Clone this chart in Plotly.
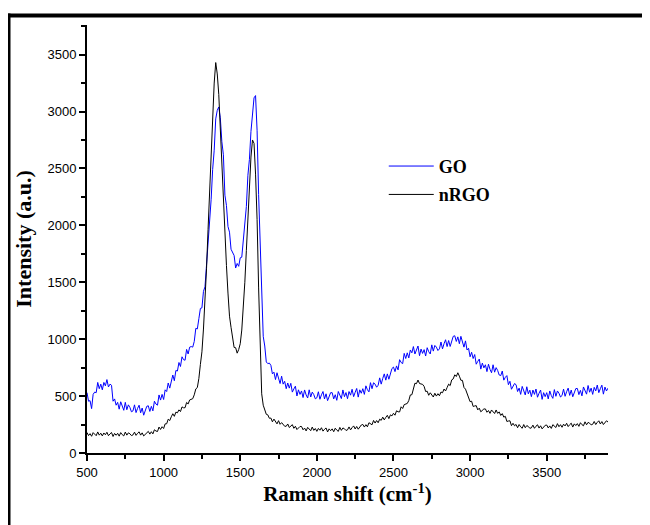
import plotly.graph_objects as go

# Raman shift grid (cm^-1)
raman_shift = list(range(500, 3901, 10))

# GO spectrum intensity (a.u.) (noisy trace)
go_intensity = [
    530, 455, 460, 390, 515, 535, 530, 620, 565, 605,
    555, 620, 590, 645, 580, 605, 595, 455, 475, 420,
    445, 385, 450, 405, 375, 445, 380, 423, 400, 362,
    370, 423, 355, 392, 420, 353, 395, 332, 365, 410,
    415, 365, 410, 370, 455, 430, 420, 510, 465, 515,
    470, 555, 540, 615, 570, 625, 685, 635, 725, 720,
    795, 760, 845, 820, 815, 910, 870, 930, 935, 930,
    980, 1095, 1090, 1180, 1270, 1275, 1420, 1460, 1645, 1830,
    2080, 2225, 2490, 2660, 2935, 3010, 3040, 2945, 2735, 2620,
    2265, 2175, 1990, 1940, 1790, 1765, 1735, 1625, 1665, 1640,
    1715, 1720, 1880, 1970, 2165, 2440, 2580, 2825, 3010, 3120,
    3140, 2835, 2270, 1810, 1390, 1025, 940, 800, 785, 790,
    770, 695, 710, 645, 705, 650, 610, 675, 605, 630,
    565, 615, 570, 612, 535, 563, 587, 501, 555, 515,
    545, 487, 554, 510, 483, 555, 492, 535, 513, 476,
    485, 538, 472, 511, 540, 475, 520, 460, 495, 530,
    530, 475, 512, 463, 540, 501, 478, 554, 495, 531,
    477, 540, 508, 560, 495, 533, 567, 491, 555, 525,
    565, 515, 590, 556, 537, 618, 565, 617, 605, 578,
    595, 660, 605, 655, 695, 640, 695, 648, 695, 742,
    755, 715, 765, 730, 820, 795, 785, 875, 830, 880,
    835, 905, 880, 935, 870, 910, 940, 855, 913, 875,
    908, 852, 925, 890, 870, 950, 895, 945, 930, 900,
    915, 975, 915, 960, 995, 935, 988, 936, 980, 1025,
    1030, 980, 1020, 960, 1025, 970, 930, 985, 905, 920,
    845, 885, 830, 865, 780, 805, 825, 737, 790, 748,
    775, 715, 780, 735, 705, 775, 710, 750, 725, 685,
    680, 720, 640, 665, 680, 600, 630, 560, 585, 610,
    600, 540, 570, 515, 585, 540, 510, 582, 520, 552,
    495, 553, 515, 562, 490, 525, 553, 471, 530, 495,
    530, 475, 545, 505, 480, 557, 498, 545, 525, 492,
    505, 561, 498, 539, 570, 506, 553, 494, 530, 566,
    567, 513, 550, 502, 580, 541, 517, 593, 534, 570,
    515, 577, 545, 597, 530, 565, 596, 517, 579, 545,
    570,
]

# nRGO spectrum intensity (a.u.) (noisy trace)
nrgo_intensity = [
    180, 153, 170, 147, 179, 162, 152, 185, 157, 174,
    150, 176, 160, 182, 152, 168, 180, 145, 172, 156,
    173, 148, 179, 161, 150, 184, 157, 177, 169, 153,
    159, 183, 155, 173, 186, 157, 177, 150, 166, 181,
    190, 166, 187, 168, 204, 193, 189, 228, 207, 231,
    215, 256, 257, 297, 285, 318, 345, 322, 359, 353,
    379, 364, 405, 397, 398, 444, 431, 466, 473, 477,
    511, 563, 575, 655, 778, 889, 1089, 1302, 1618, 1963,
    2300, 2640, 2960, 3250, 3430, 3330, 3150, 2830, 2500, 2220,
    1975, 1648, 1405, 1202, 1104, 997, 927, 925, 877, 909,
    960, 1080, 1280, 1500, 1780, 2060, 2320, 2600, 2750, 2720,
    2450, 2050, 1450, 850, 520, 420, 380, 340, 335, 305,
    307, 274, 298, 273, 256, 284, 252, 267, 255, 235,
    235, 255, 224, 239, 249, 217, 235, 206, 220, 233,
    233, 204, 219, 194, 225, 207, 196, 228, 199, 215,
    190, 216, 200, 222, 192, 208, 220, 185, 212, 196,
    212, 187, 218, 201, 190, 225, 199, 220, 213, 198,
    203, 229, 203, 223, 238, 211, 233, 209, 228, 246,
    251, 228, 249, 230, 266, 253, 248, 286, 263, 285,
    266, 297, 287, 315, 291, 313, 331, 302, 335, 326,
    349, 332, 371, 362, 361, 406, 391, 425, 433, 435,
    461, 510, 512, 565, 613, 609, 641, 610, 608, 603,
    585, 540, 543, 507, 529, 505, 492, 525, 500, 521,
    503, 536, 529, 562, 545, 575, 605, 592, 642, 651,
    687, 672, 705, 675, 639, 638, 576, 561, 518, 472,
    451, 455, 409, 413, 416, 379, 394, 362, 375, 387,
    387, 358, 373, 348, 378, 359, 347, 378, 348, 361,
    330, 346, 315, 322, 277, 281, 283, 240, 261, 239,
    251, 222, 250, 230, 217, 250, 222, 241, 233, 217,
    221, 245, 217, 235, 248, 219, 239, 212, 228, 243,
    246, 220, 238, 216, 249, 233, 224, 258, 231, 249,
    226, 253, 238, 261, 232, 249, 262, 228, 256, 241,
    258, 234, 266, 249, 239, 274, 248, 269, 262, 247,
    252, 277, 250, 269, 283, 255, 276, 250, 267, 283,
    272,
]

x_tick_values = [500, 1000, 1500, 2000, 2500, 3000, 3500]
y_tick_values = [0, 500, 1000, 1500, 2000, 2500, 3000, 3500]

fig = go.Figure()
fig.add_trace(go.Scatter(
    x=raman_shift, y=go_intensity, mode="lines", name="GO",
    legendgroup="GO", line=dict(color="#0000FF", width=1),
))
fig.add_trace(go.Scatter(
    x=raman_shift, y=nrgo_intensity, mode="lines", name="nRGO",
    legendgroup="nRGO", line=dict(color="#000000", width=1),
))

tick_font = dict(family="Liberation Sans, Arial, sans-serif", size=13, color="#000000")
serif = "Liberation Serif, Times New Roman, serif"

fig.update_layout(
    width=642, height=517,
    margin=dict(l=79, r=42, t=17, b=72, autoexpand=False),
    paper_bgcolor="white", plot_bgcolor="white",
    showlegend=True,
    legend=dict(
        x=0.5696, y=0.713, xanchor="left", yanchor="top",
        font=dict(family=serif, size=18, color="#000000", weight="bold"),
        bgcolor="rgba(0,0,0,0)", borderwidth=0,
        traceorder="grouped", tracegroupgap=2, itemwidth=45,
    ),
    xaxis=dict(
        range=[500, 3900], showgrid=False, zeroline=False,
        showline=True, linecolor="black", linewidth=2,
        ticks="outside", ticklen=6, tickwidth=1.5, tickcolor="black",
        tickvals=x_tick_values, tickfont=tick_font,
        minor=dict(ticks="outside", ticklen=4, tickwidth=1.5, tickcolor="black", dtick=250, tick0=500),
        title=dict(text="Raman shift (cm<sup>-1</sup>)",
                   font=dict(family=serif, size=21, color="#000000", weight="bold"), standoff=8),
    ),
    yaxis=dict(
        range=[0, 3760], showgrid=False, zeroline=False,
        showline=True, linecolor="black", linewidth=2,
        ticks="outside", ticklen=6, tickwidth=1.5, tickcolor="black",
        tickvals=y_tick_values, tickfont=tick_font,
        minor=dict(ticks="outside", ticklen=4, tickwidth=1.5, tickcolor="black", dtick=250, tick0=0),
        title=dict(text="Intensity (a.u.)",
                   font=dict(family=serif, size=22, color="#000000", weight="bold"), standoff=10),
    ),
)

# Outer frame (left and top border of the picture)
fig.add_shape(type="line", xref="paper", yref="paper",
              x0=-0.1497, x1=-0.1497, y0=1.027, y1=-0.25,
              line=dict(color="black", width=3))
fig.add_shape(type="line", xref="paper", yref="paper",
              x0=-0.16, x1=1.2, y0=1.0222, y1=1.0222,
              line=dict(color="black", width=4))

fig.write_html("out.html")
